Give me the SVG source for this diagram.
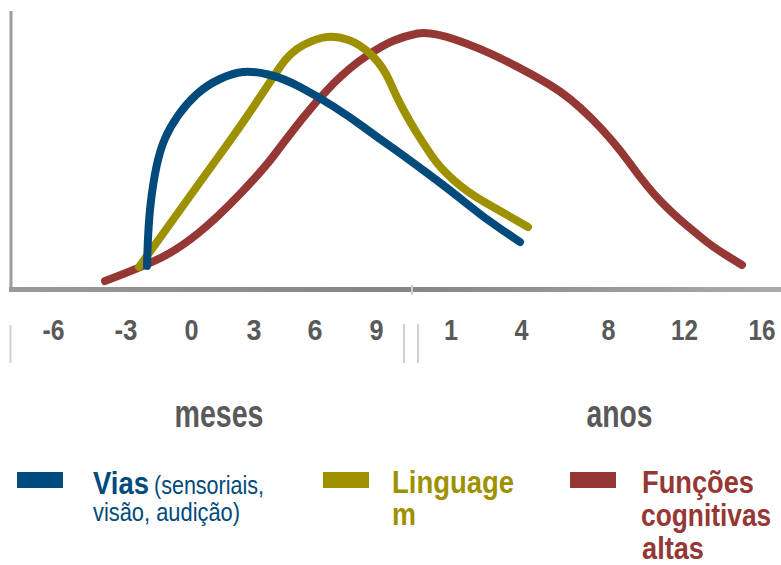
<svg xmlns="http://www.w3.org/2000/svg" width="781" height="565" viewBox="0 0 781 565">
  <defs>
    <linearGradient id="axisGrad" x1="0" y1="0" x2="1" y2="0">
      <stop offset="0" stop-color="#9a9a9a"/>
      <stop offset="0.5" stop-color="#848484"/>
      <stop offset="1" stop-color="#ababab"/>
    </linearGradient>
  </defs>
  <style>
    .curve { fill: none; stroke-width: 8; stroke-linecap: round; stroke-linejoin: round; }
    .tick { font-family: "Liberation Sans", Arial, sans-serif; font-weight: bold; font-size: 30px; fill: #595959; text-anchor: middle; }
    .unit { font-family: "Liberation Sans", Arial, sans-serif; font-weight: bold; font-size: 38px; fill: #595959; text-anchor: middle; }
    .sep { stroke: #d0d0d0; stroke-width: 2; }
    .lg { font-family: "Liberation Sans", Arial, sans-serif; font-size: 31px; font-weight: bold; }
    .lgs { font-family: "Liberation Sans", Arial, sans-serif; font-size: 25px; font-weight: normal; }
    .blue { fill: #004a7c; }
    .olive { fill: #9e9100; }
    .red { fill: #953735; }
  </style>

  <g id="axes">
    <line x1="11" y1="11" x2="11" y2="291" stroke="#9c9c9c" stroke-width="3"/>
    <rect x="9" y="287" width="772" height="5" fill="url(#axisGrad)"/>
    <line x1="412" y1="285" x2="412" y2="295" stroke="#cfcfcf" stroke-width="2"/>
  </g>

  <g id="curves">
    <path id="curve-funcoes" class="curve" stroke="#953735" d="M105,281 Q145,266 162.5,257 Q180,248 198.5,233 Q217,218 240,194 Q263,170 275,154 Q287,138 302,119 Q317,100 333.5,83.5 Q350,67 366.5,56 Q383,45 394,40.5 Q405,36 417.5,33.5 Q430,31 455,39.5 Q480,48 505,60.5 Q530,73 550,85 Q570,97 591.5,118.5 Q613,140 630,163.5 Q647,187 660,200.5 Q673,214 685,224 Q697,234 705,240.5 Q713,247 727.5,256 L742,265"/>
    <path id="curve-linguagem" class="curve" stroke="#9e9100" stroke-width="9" d="M139,267 Q160,238 180,210 Q200,182 220,154.5 Q240,127 255,104.5 Q270,82 280,67 Q290,52 303.5,45 Q317,38 327,37 Q337,36 348.5,40 Q360,44 371.5,55 Q383,66 390,82 Q397,98 403.5,110 Q410,122 416.5,132.5 Q423,143 431.5,155.5 Q440,168 453.5,180 Q467,192 483.5,201.5 Q500,211 514,219 L528,227"/>
    <path id="curve-vias" class="curve" stroke="#004a7c" d="M147,266 Q148,227 150.5,205 Q153,183 156.5,166.5 Q160,150 165,138.5 Q170,127 178.5,115 Q187,103 197,94 Q207,85 220,79 Q233,73 243,72 Q253,71 268,74.5 Q283,78 300,87 Q317,96 333.5,106.5 Q350,117 363.5,127 Q377,137 388.5,145 Q400,153 425,171.5 Q450,190 466.5,203.5 Q483,217 501.5,229.5 L520,242"/>
  </g>

  <g id="x-labels">
    <line class="sep" x1="10.5" y1="325" x2="10.5" y2="363"/>
    <line class="sep" x1="404" y1="324" x2="404" y2="363"/>
    <line class="sep" x1="418" y1="324" x2="418" y2="363"/>
    <text class="tick" x="53.5" y="340" textLength="22" lengthAdjust="spacingAndGlyphs">-6</text>
    <text class="tick" x="126" y="340" textLength="23" lengthAdjust="spacingAndGlyphs">-3</text>
    <text class="tick" x="191.5" y="340" textLength="14" lengthAdjust="spacingAndGlyphs">0</text>
    <text class="tick" x="254" y="340" textLength="15" lengthAdjust="spacingAndGlyphs">3</text>
    <text class="tick" x="315" y="340" textLength="15" lengthAdjust="spacingAndGlyphs">6</text>
    <text class="tick" x="376.5" y="340" textLength="14" lengthAdjust="spacingAndGlyphs">9</text>
    <text class="tick" x="451" y="340" textLength="14" lengthAdjust="spacingAndGlyphs">1</text>
    <text class="tick" x="521.5" y="340" textLength="14" lengthAdjust="spacingAndGlyphs">4</text>
    <text class="tick" x="608.5" y="340" textLength="14" lengthAdjust="spacingAndGlyphs">8</text>
    <text class="tick" x="684.5" y="340" textLength="27" lengthAdjust="spacingAndGlyphs">12</text>
    <text class="tick" x="762" y="340" textLength="27" lengthAdjust="spacingAndGlyphs">16</text>
    <text class="unit" x="219" y="427" textLength="89" lengthAdjust="spacingAndGlyphs">meses</text>
    <text class="unit" x="619.5" y="427" textLength="66" lengthAdjust="spacingAndGlyphs">anos</text>
  </g>

  <g id="legend-vias">
    <rect x="17" y="472" width="46" height="16" fill="#004a7c"/>
    <text class="lg blue" x="93" y="494" textLength="56" lengthAdjust="spacingAndGlyphs">Vias</text>
    <text class="lgs blue" x="154" y="494" textLength="110" lengthAdjust="spacingAndGlyphs">(sensoriais,</text>
    <text class="lgs blue" x="93" y="521" textLength="147" lengthAdjust="spacingAndGlyphs">visão, audição)</text>
  </g>

  <g id="legend-linguagem">
    <rect x="323" y="472" width="46" height="16" fill="#9e9100"/>
    <text class="lg olive" x="392" y="493" textLength="122" lengthAdjust="spacingAndGlyphs">Linguage</text>
    <text class="lg olive" x="392" y="525" textLength="24" lengthAdjust="spacingAndGlyphs">m</text>
  </g>

  <g id="legend-funcoes">
    <rect x="570" y="472" width="46" height="16" fill="#953735"/>
    <text class="lg red" x="642" y="493" textLength="112" lengthAdjust="spacingAndGlyphs">Funções</text>
    <text class="lg red" transform="translate(641,526) scale(0.85,1)" x="0" y="0">cognitivas</text>
    <text class="lg red" x="642" y="559" textLength="62" lengthAdjust="spacingAndGlyphs">altas</text>
  </g>
</svg>
